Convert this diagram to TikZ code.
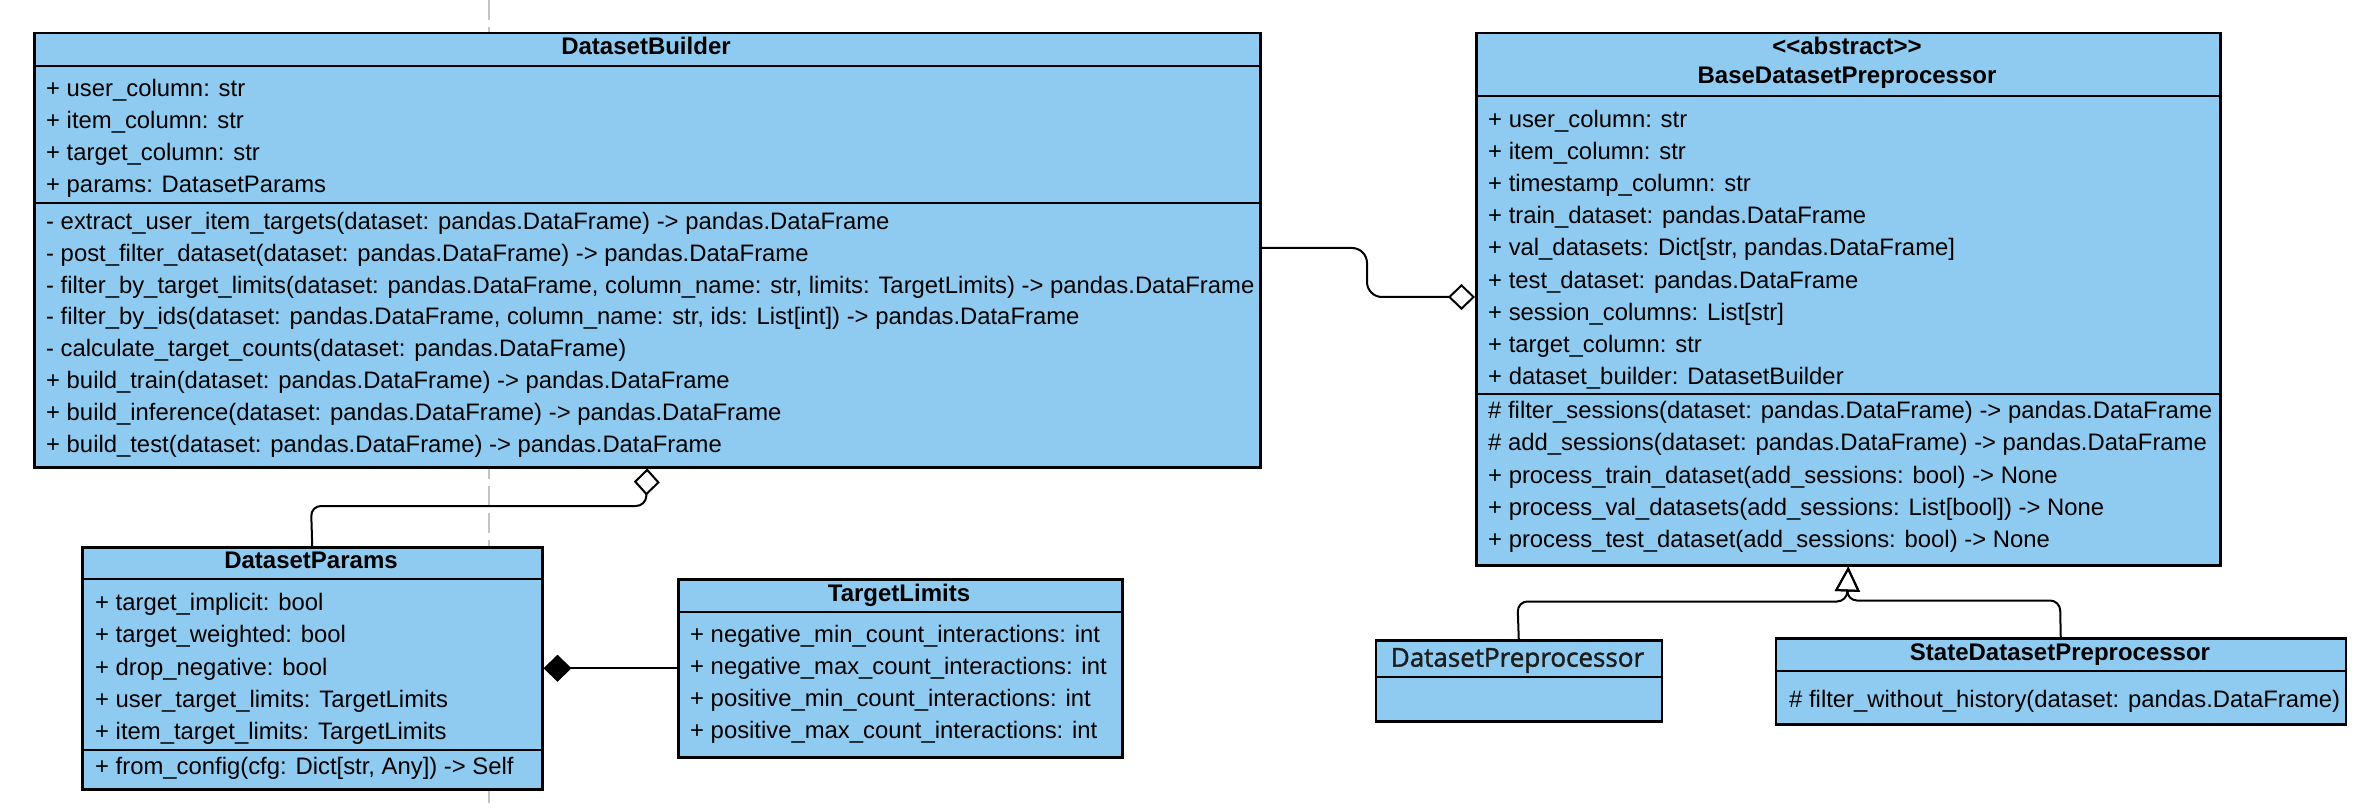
\documentclass[tikz,border=0pt]{standalone}
\usepackage{fontspec}
\setmainfont{Liberation Sans}
\newfontfamily\plainclassfont{Open Sans}[FakeBold=1.6]
\usetikzlibrary{arrows.meta}

\definecolor{classfill}{HTML}{8FCBF0}
\definecolor{guidegray}{HTML}{C4C4C4}
\definecolor{softink}{HTML}{1C1C1C}

\begin{document}
\begin{tikzpicture}[x=1pt,y=-1pt,
  classbox/.style={draw=black, line width=2.5pt, fill=classfill, rectangle,
    inner sep=0pt, anchor=north west},
  sep/.style={line width=2.5pt},
  member/.style={anchor=base west, inner sep=0pt, font=\fontsize{23.85}{28}\selectfont},
  classname/.style={anchor=base, inner sep=0pt, font=\fontsize{24}{28}\selectfont\bfseries},
  link/.style={line width=2pt},
]
\useasboundingbox (0,0) rectangle (2372,810);

% vertical page guide behind the classes
\coordinate (guide-top) at (489,0);
\coordinate (guide-bottom) at (489,810);
\draw[guidegray, line width=2pt, dash pattern=on 20pt off 7pt] (guide-top) -- (guide-bottom);

% ---------- DatasetBuilder ----------
\node[classbox, minimum width=1226pt, minimum height=434pt] (db) at (33,32) {};
\draw[sep] (db.west |- 0,66) -- (db.east |- 0,66);
\draw[sep] (db.west |- 0,203) -- (db.east |- 0,203);
\node[classname] (db-title) at (646,55) {DatasetBuilder};
\foreach \t [count=\i] in {{+ user\_column: str},{+ item\_column: str},
  {+ target\_column: str},{+ params: DatasetParams}}
  \node[member] (db-a\i) at (46,{96.7+31.9*(\i-1)}) {\t};
\foreach \t [count=\i] in {
  {- extract\_user\_item\_targets(dataset: pandas.DataFrame) -> pandas.DataFrame},
  {- post\_filter\_dataset(dataset: pandas.DataFrame) -> pandas.DataFrame},
  {- filter\_by\_target\_limits(dataset: pandas.DataFrame, column\_name: str, limits: TargetLimits) -> pandas.DataFrame},
  {- filter\_by\_ids(dataset: pandas.DataFrame, column\_name: str, ids: List[int]) -> pandas.DataFrame},
  {- calculate\_target\_counts(dataset: pandas.DataFrame)},
  {+ build\_train(dataset: pandas.DataFrame) -> pandas.DataFrame},
  {+ build\_inference(dataset: pandas.DataFrame) -> pandas.DataFrame},
  {+ build\_test(dataset: pandas.DataFrame) -> pandas.DataFrame}}
  \node[member] (db-m\i) at (46,{229.3+31.9*(\i-1)}) {\t};

% ---------- BaseDatasetPreprocessor ----------
\node[classbox, minimum width=744pt, minimum height=532pt] (bdp) at (1475,32) {};
\draw[sep] (bdp.west |- 0,96) -- (bdp.east |- 0,96);
\draw[sep] (bdp.west |- 0,394) -- (bdp.east |- 0,394);
\node[classname] (bdp-stereo) at (1847,54.7)
  {\textless\kern0pt\textless\kern0pt abstract\kern0pt\textgreater\kern0pt\textgreater};
\node[classname] (bdp-title) at (1847,83.2) {BaseDatasetPreprocessor};
\foreach \t [count=\i] in {{+ user\_column: str},{+ item\_column: str},
  {+ timestamp\_column: str},{+ train\_dataset: pandas.DataFrame},
  {+ val\_datasets: Dict[str, pandas.DataFrame]},{+ test\_dataset: pandas.DataFrame},
  {+ session\_columns: List[str]},{+ target\_column: str},
  {+ dataset\_builder: DatasetBuilder}}
  \node[member] (bdp-a\i) at (1488,{127.6+32.1*(\i-1)}) {\t};
\foreach \t [count=\i] in {
  {\# filter\_sessions(dataset: pandas.DataFrame) -> pandas.DataFrame},
  {\# add\_sessions(dataset: pandas.DataFrame) -> pandas.DataFrame},
  {+ process\_train\_dataset(add\_sessions: bool) -> None},
  {+ process\_val\_datasets(add\_sessions: List[bool]) -> None},
  {+ process\_test\_dataset(add\_sessions: bool) -> None}}
  \node[member] (bdp-m\i) at (1488,{418.7+32.2*(\i-1)}) {\t};

% ---------- DatasetParams ----------
\node[classbox, minimum width=460pt, minimum height=242pt] (dp) at (81,546) {};
\draw[sep] (dp.west |- 0,579) -- (dp.east |- 0,579);
\draw[sep] (dp.west |- 0,750) -- (dp.east |- 0,750);
\node[classname] (dp-title) at (311,568.3) {DatasetParams};
\foreach \t [count=\i] in {{+ target\_implicit: bool},{+ target\_weighted: bool},
  {+ drop\_negative: bool},{+ user\_target\_limits: TargetLimits},
  {+ item\_target\_limits: TargetLimits}}
  \node[member] (dp-a\i) at (95,{610.7+32.25*(\i-1)}) {\t};
\node[member] (dp-m1) at (95,774.3) {+ from\_config(cfg: Dict[str, Any]) -> Self};

% ---------- TargetLimits ----------
\node[classbox, minimum width=444pt, minimum height=178pt] (tl) at (677,578) {};
\draw[sep] (tl.west |- 0,612) -- (tl.east |- 0,612);
\node[classname] (tl-title) at (899,601) {TargetLimits};
\foreach \t [count=\i] in {{+ negative\_min\_count\_interactions: int},
  {+ negative\_max\_count\_interactions: int},
  {+ positive\_min\_count\_interactions: int},
  {+ positive\_max\_count\_interactions: int}}
  \node[member] (tl-a\i) at (690,{642.7+32*(\i-1)}) {\t};

% ---------- DatasetPreprocessor ----------
\node[classbox, minimum width=286pt, minimum height=81pt] (dpp) at (1374.5,639) {};
\draw[sep] (dpp.west |- 0,677) -- (dpp.east |- 0,677);
\node[anchor=base, inner sep=0pt, text=softink,
  font=\plainclassfont\fontsize{26}{30}\selectfont] (dpp-title) at (1517.5,666.7) {DatasetPreprocessor};

% ---------- StateDatasetPreprocessor ----------
\node[classbox, minimum width=570pt, minimum height=86pt] (sdp) at (1774.5,637) {};
\draw[sep] (sdp.west |- 0,671) -- (sdp.east |- 0,671);
\node[classname] (sdp-title) at (2060,660.5) {StateDatasetPreprocessor};
\node[member] (sdp-m1) at (1789,707) {\# filter\_without\_history(dataset: pandas.DataFrame)};

% ---------- relations ----------
% DatasetBuilder is aggregated by BaseDatasetPreprocessor
\draw[link, rounded corners=15pt, -{Diamond[open, length=27pt, width=26pt]}]
  ([yshift=-216pt]db.north east) -- (1367,248) -- (1367,297) -- ([yshift=-265pt]bdp.north west);
% DatasetParams is aggregated by DatasetBuilder
\draw[link, rounded corners=10pt, -{Diamond[open, length=27pt, width=26pt]}]
  (dp.north) -- (311,506) -- (646,506) -- (db.south);
% TargetLimits is a part of DatasetParams
\draw[link, {Diamond[length=28pt, width=27pt]}-] (dp.east) -- (tl.west);
% subclasses of BaseDatasetPreprocessor
\draw[link, rounded corners=10pt, -{Triangle[open, length=25pt, width=25pt]}]
  (dpp.north) -- (1517.5,601.5) -- (1847,601.5) -- (bdp.south);
\draw[link, rounded corners=10pt, -{Triangle[open, length=25pt, width=25pt]}]
  (sdp.north) -- (2060,600.5) -- (1847,600.5) -- (bdp.south);

\end{tikzpicture}
\end{document}
